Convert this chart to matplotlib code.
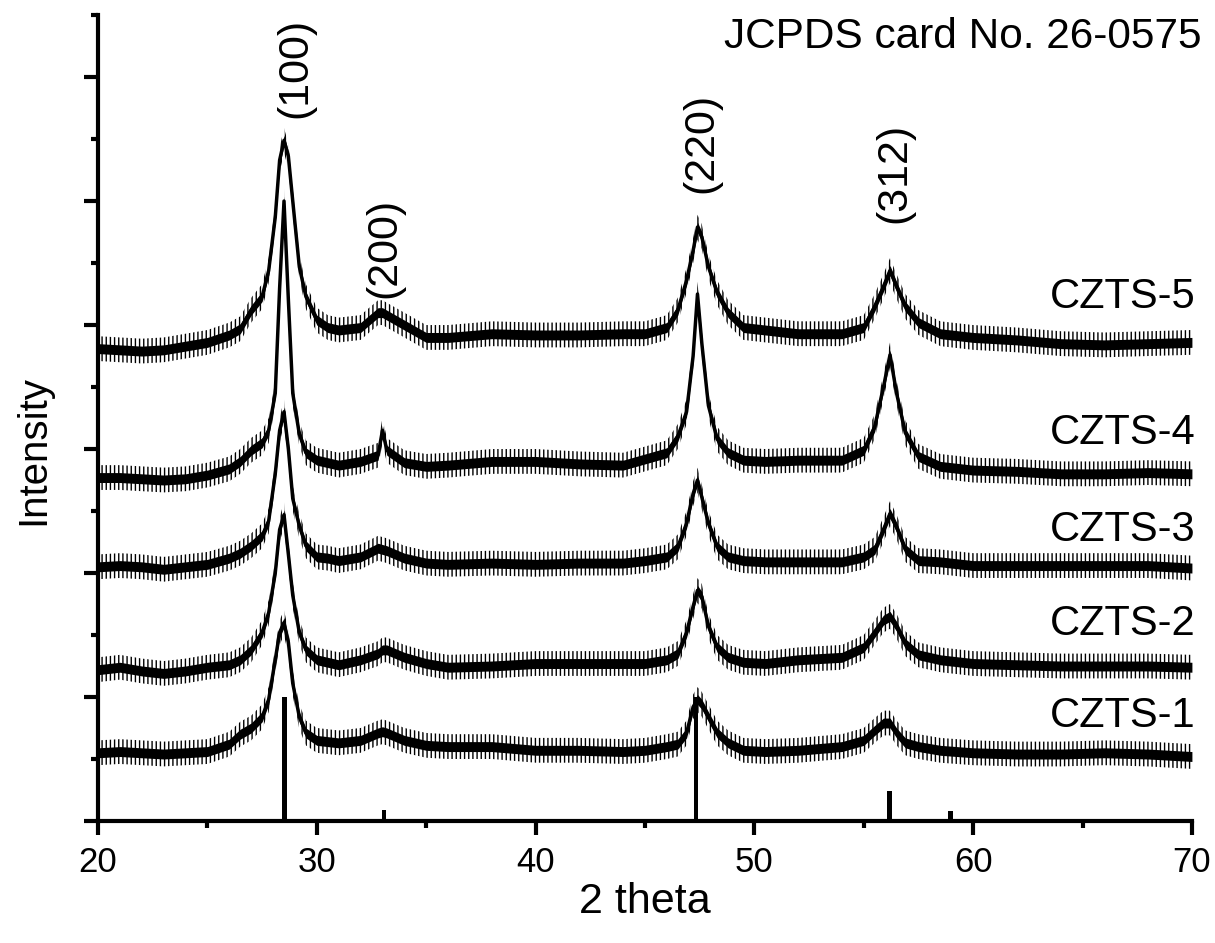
import matplotlib.pyplot as plt
import numpy as np
from matplotlib.ticker import MultipleLocator

plt.rcParams['font.family'] = ['Liberation Sans', 'DejaVu Sans']
plt.rcParams['hatch.linewidth'] = 1.0

# 2theta sampling points (deg), denser around the reflections
two_theta = [20, 21, 22, 23, 24, 25, 26, 26.5, 27, 27.5, 27.8,
             28.1, 28.3, 28.5, 28.7, 28.9, 29.2, 29.5, 30, 30.5, 31,
             32, 32.8, 33, 33.2, 34, 35, 36, 38, 40, 42,
             44, 45, 46, 46.5, 46.9, 47.2, 47.4, 47.6, 47.9, 48.3,
             48.8, 49.5, 50.5, 52, 54, 55, 55.5, 55.9, 56.2, 56.5,
             56.9, 57.5, 58.5, 60, 62, 64, 66, 68, 70]

# stacked intensities (offset, arb. units)
czts_1 = [0.55, 0.56, 0.55, 0.54, 0.55, 0.56, 0.62, 0.70, 0.75, 0.84, 0.98,
          1.30, 1.52, 1.60, 1.44, 1.11, 0.84, 0.71, 0.65, 0.64, 0.63,
          0.65, 0.71, 0.72, 0.71, 0.65, 0.61, 0.60, 0.60, 0.57, 0.57,
          0.56, 0.57, 0.60, 0.62, 0.71, 0.92, 0.98, 0.94, 0.84, 0.71,
          0.63, 0.57, 0.56, 0.57, 0.60, 0.65, 0.73, 0.79, 0.79, 0.71,
          0.63, 0.60, 0.57, 0.55, 0.54, 0.54, 0.55, 0.54, 0.52]
czts_2 = [1.22, 1.24, 1.21, 1.19, 1.21, 1.24, 1.26, 1.30, 1.38, 1.52, 1.68,
          2.00, 2.35, 2.47, 2.15, 1.82, 1.52, 1.38, 1.30, 1.28, 1.26,
          1.30, 1.35, 1.38, 1.38, 1.32, 1.27, 1.24, 1.25, 1.27, 1.27,
          1.27, 1.27, 1.30, 1.35, 1.52, 1.73, 1.86, 1.81, 1.57, 1.40,
          1.32, 1.28, 1.27, 1.30, 1.32, 1.40, 1.52, 1.62, 1.65, 1.57,
          1.43, 1.34, 1.30, 1.27, 1.26, 1.25, 1.25, 1.25, 1.24]
czts_3 = [2.05, 2.06, 2.05, 2.03, 2.05, 2.07, 2.12, 2.16, 2.22, 2.30, 2.42,
          2.80, 3.15, 3.30, 3.00, 2.60, 2.38, 2.22, 2.13, 2.12, 2.10,
          2.13, 2.20, 2.19, 2.18, 2.12, 2.08, 2.07, 2.08, 2.07, 2.08,
          2.08, 2.10, 2.13, 2.21, 2.40, 2.64, 2.75, 2.61, 2.40, 2.21,
          2.13, 2.10, 2.09, 2.09, 2.09, 2.13, 2.19, 2.35, 2.48, 2.37,
          2.19, 2.10, 2.09, 2.06, 2.06, 2.06, 2.06, 2.06, 2.04]
czts_4 = [2.77, 2.77, 2.76, 2.75, 2.76, 2.79, 2.84, 2.90, 2.99, 3.05, 3.15,
          3.45, 4.30, 5.00, 4.20, 3.45, 3.12, 2.97, 2.91, 2.89, 2.87,
          2.90, 2.95, 3.15, 2.99, 2.89, 2.86, 2.87, 2.90, 2.90, 2.88,
          2.87, 2.92, 2.97, 3.10, 3.30, 3.75, 4.25, 3.85, 3.35, 3.08,
          2.97, 2.91, 2.90, 2.91, 2.91, 2.99, 3.18, 3.50, 3.76, 3.45,
          3.13, 2.94, 2.86, 2.83, 2.82, 2.80, 2.80, 2.81, 2.80]
czts_5 = [3.81, 3.80, 3.79, 3.80, 3.83, 3.86, 3.92, 3.97, 4.12, 4.23, 4.44,
          4.87, 5.33, 5.49, 5.36, 5.00, 4.47, 4.23, 4.04, 3.98, 3.96,
          3.98, 4.10, 4.10, 4.08, 4.00, 3.90, 3.90, 3.93, 3.92, 3.92,
          3.93, 3.93, 3.98, 4.12, 4.36, 4.60, 4.79, 4.71, 4.47, 4.26,
          4.10, 3.98, 3.96, 3.93, 3.93, 3.98, 4.15, 4.31, 4.44, 4.31,
          4.15, 4.02, 3.93, 3.90, 3.88, 3.85, 3.84, 3.85, 3.86]

samples = ['CZTS-1', 'CZTS-2', 'CZTS-3', 'CZTS-4', 'CZTS-5']
label_y = [0.85, 1.59, 2.35, 3.13, 4.23]

# JCPDS card No. 26-0575 stick pattern
ref_pos = [28.53, 33.07, 37.99, 47.33, 56.18, 56.86, 58.97]
ref_int = [1.00, 0.09, 0.015, 1.00, 0.24, 0.015, 0.08]

planes = ['(100)', '(200)', '(220)', '(312)']
plane_x = [29.0, 33.1, 47.6, 56.4]
plane_y = [6.07, 4.62, 5.47, 5.23]

core_hw = 0.04     # solid part of the noisy trace
fringe_hw = 0.10   # ragged edge of the noisy trace

fig, ax = plt.subplots(figsize=(12.15, 9.43), dpi=100)
fig.subplots_adjust(left=0.0807, right=0.981, bottom=0.1294, top=0.984)

for vals in [czts_1, czts_2, czts_3, czts_4, czts_5]:
    y = np.array(vals)
    ax.fill_between(two_theta, y - fringe_hw, y + fringe_hw, facecolor='none',
                    edgecolor='black', hatch='||||', linewidth=0)
    ax.fill_between(two_theta, y - core_hw, y + core_hw, color='black', linewidth=0)
    ax.plot(two_theta, y, color='black', lw=2.5)

ax.bar(ref_pos, ref_int, width=0.22, color='black')

for name, yy in zip(samples, label_y):
    ax.text(70.15, yy, name, ha='right', va='center', fontsize=30)
for p, px, py in zip(planes, plane_x, plane_y):
    ax.text(px, py, p, rotation=90, ha='center', va='center', fontsize=31)
ax.text(70.45, 6.32, 'JCPDS card No. 26-0575', ha='right', va='center', fontsize=30.5)

ax.set_xlim(20, 70)
ax.set_ylim(0, 6.5)
ax.set_xticks(range(20, 71, 10))
ax.xaxis.set_minor_locator(MultipleLocator(5))
ax.set_yticks(range(0, 7))
ax.yaxis.set_minor_locator(MultipleLocator(0.5))
ax.tick_params(which='major', length=10, width=3, direction='out', labelsize=25, pad=8)
ax.tick_params(which='minor', length=5, width=3, direction='out')
ax.tick_params(axis='y', labelleft=False)

for side in ['top', 'right']:
    ax.spines[side].set_visible(False)
for side in ['left', 'bottom']:
    ax.spines[side].set_linewidth(3)

ax.set_xlabel('2 theta', fontsize=31)
ax.xaxis.set_label_coords(0.5, -0.076)
ax.set_ylabel('Intensity', fontsize=29)
ax.yaxis.set_label_coords(-0.042, 0.46)

fig.savefig('out.png', dpi=100)
